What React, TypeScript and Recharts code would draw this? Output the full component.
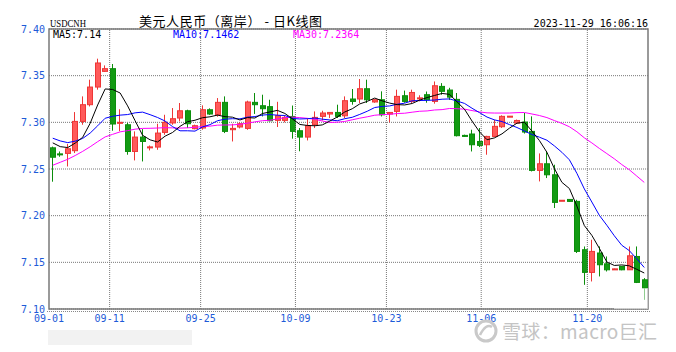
import {
  Bar,
  CartesianGrid,
  ComposedChart,
  Line,
  ReferenceArea,
  ReferenceLine,
  XAxis,
  YAxis
} from "recharts";

// daily USDCNH candles, 09-01 .. 11-29
const opens = [
  7.2727, 7.2662, 7.2667, 7.2696, 7.301, 7.3189, 7.3378, 7.3546, 7.3575, 7.299,
  7.2974, 7.2688, 7.2842, 7.2733, 7.2735, 7.2892, 7.2993, 7.3046, 7.3124, 7.2932,
  7.2939, 7.3135, 7.3082, 7.3214, 7.2921, 7.295, 7.2935, 7.3214, 7.3178, 7.3168,
  7.3021, 7.3021, 7.3063, 7.291, 7.2842, 7.2974, 7.3064, 7.3089, 7.3106, 7.307,
  7.325, 7.325, 7.336, 7.3218, 7.3242, 7.3089, 7.3117, 7.3285, 7.3224, 7.3258,
  7.3296, 7.3224, 7.3385, 7.3346, 7.3246, 7.286, 7.2875, 7.2795, 7.276, 7.2849,
  7.2953, 7.3062, 7.2992, 7.3003, 7.2903, 7.2485, 7.2556, 7.2438, 7.2161, 7.2174,
  7.2153, 7.1635, 7.1392, 7.16, 7.1484, 7.1426, 7.1456, 7.142, 7.1563, 7.1313
];
const highs = [
  7.2740, 7.2688, 7.2768, 7.311, 7.3278, 7.3457, 7.3682, 7.361, 7.3625, 7.314,
  7.2995, 7.2903, 7.2928, 7.2752, 7.2985, 7.3081, 7.3153, 7.3207, 7.3135, 7.2975,
  7.3182, 7.315, 7.326, 7.3278, 7.2985, 7.3, 7.3232, 7.3314, 7.3296, 7.3242,
  7.322, 7.307, 7.318, 7.2939, 7.3046, 7.3117, 7.3124, 7.3108, 7.3189, 7.3278,
  7.3357, 7.3464, 7.3457, 7.325, 7.3332, 7.311, 7.335, 7.334, 7.335, 7.329,
  7.333, 7.3438, 7.342, 7.337, 7.3314, 7.2868, 7.2921, 7.2939, 7.2856, 7.3028,
  7.3075, 7.3068, 7.303, 7.31, 7.3064, 7.2667, 7.2688, 7.2546, 7.2167, 7.2176,
  7.217, 7.167, 7.1742, 7.167, 7.1563, 7.1432, 7.146, 7.167, 7.167, 7.1331
];
const lows = [
  7.2364, 7.2631, 7.2527, 7.2671, 7.2974, 7.317, 7.335, 7.354, 7.291, 7.2905,
  7.2653, 7.2592, 7.2581, 7.2699, 7.2706, 7.2867, 7.2974, 7.301, 7.2939, 7.2925,
  7.2921, 7.308, 7.306, 7.2885, 7.2795, 7.2935, 7.292, 7.309, 7.3063, 7.301,
  7.295, 7.3, 7.2825, 7.269, 7.2806, 7.2939, 7.302, 7.3046, 7.3046, 7.3046,
  7.3189, 7.3207, 7.3207, 7.321, 7.3063, 7.3, 7.3063, 7.321, 7.3207, 7.3225,
  7.321, 7.32, 7.3296, 7.324, 7.2849, 7.2845, 7.2688, 7.2735, 7.2653, 7.284,
  7.294, 7.306, 7.2985, 7.288, 7.2474, 7.2367, 7.2403, 7.2082, 7.2159, 7.215,
  7.16, 7.1259, 7.1295, 7.1349, 7.1402, 7.1424, 7.1415, 7.1418, 7.1278, 7.1098
];
const closes = [
  7.2626, 7.2658, 7.2717, 7.301, 7.3189, 7.3378, 7.3636, 7.3575, 7.2982, 7.3,
  7.2688, 7.2842, 7.2795, 7.2737, 7.2885, 7.3, 7.3039, 7.3124, 7.2985, 7.2964,
  7.3135, 7.3089, 7.3214, 7.2903, 7.2935, 7.2985, 7.3218, 7.3189, 7.3146, 7.3017,
  7.3071, 7.3053, 7.2903, 7.2842, 7.2964, 7.3053, 7.31, 7.3106, 7.3064, 7.3232,
  7.3224, 7.336, 7.3242, 7.3242, 7.3081, 7.3106, 7.3278, 7.3224, 7.332, 7.3262,
  7.3242, 7.3392, 7.3332, 7.327, 7.2857, 7.2849, 7.276, 7.2753, 7.2849, 7.2957,
  7.3064, 7.3066, 7.302, 7.2896, 7.2485, 7.2556, 7.2438, 7.2142, 7.2165, 7.2153,
  7.1617, 7.1392, 7.1617, 7.1474, 7.142, 7.143, 7.142, 7.157, 7.1285, 7.1224
];
// closes before 09-01, estimated from where the averages start
const priorCloses = [
  7.17, 7.175, 7.18, 7.185, 7.19, 7.2, 7.205, 7.215,
  7.22, 7.23, 7.237,
  7.255, 7.27, 7.28, 7.2886,
  7.31, 7.32, 7.29, 7.2792,
  7.29,
  7.295, 7.29, 7.285, 7.29, 7.28,
  7.286, 7.2767, 7.277, 7.2877
];

const priceTicks = [7.1, 7.15, 7.2, 7.25, 7.3, 7.35, 7.4];
const dateLabels = ["09-01", "09-11", "09-25", "10-09", "10-23", "11-06", "11-20"];
const dateBars = [0, 8, 20, 32.5, 44.5, 57, 71];
const legendValues = ["7.14", "7.1462", "7.2364"];
const stamp = "2023-11-29 16:06:16";

const BLUE_TEXT = "#1d5ad8";
const MONO = "'DejaVu Sans Mono', monospace";

function movingAverage(n: number, i: number) {
  const all = [...priorCloses, ...closes];
  const end = priorCloses.length + i;
  let sum = 0;
  for (let k = end - n + 1; k <= end; k += 1) sum += all[k];
  return sum / n;
}

const rows = closes.map((close, i) => ({
  i,
  open: opens[i],
  high: highs[i],
  low: lows[i],
  close,
  range: [lows[i], highs[i]],
  ma5: movingAverage(5, i),
  ma10: movingAverage(10, i),
  ma30: movingAverage(30, i)
}));

function Candle(props: any) {
  const { x, y, width, height, payload } = props;
  if (!payload) return null;
  const { open, close, high, low } = payload;
  const up = close >= open;
  const top = Math.min(y, y + height);
  const h = Math.abs(height);
  const ppu = h / (high - low);
  const cx = Math.round(x + width / 2) - 0.5;
  const bodyTop = top + (high - Math.max(open, close)) * ppu;
  const bodyH = Math.max(1, Math.abs(open - close) * ppu);
  const line = up ? "#ee3636" : "#0b8e0b";
  return (
    <g>
      <line x1={cx} x2={cx} y1={top} y2={top + h} stroke={line} strokeWidth={1} />
      <rect
        x={Math.round(x) + 0.5}
        y={bodyTop}
        width={Math.round(width) - 1}
        height={bodyH}
        fill={up ? "#ff5a5a" : "#139b13"}
        stroke={line}
        strokeWidth={1}
      />
    </g>
  );
}

export default function App() {
  return (
    <div style={{ position: "absolute", left: 0, top: 0, width: 676, height: 352, background: "#fff" }}>
      <ComposedChart
        width={676}
        height={352}
        data={rows}
        margin={{ top: 29, right: 28, bottom: 23, left: 0 }}
      >
        <CartesianGrid vertical={false} stroke="#777" strokeDasharray="1 1" />
        <XAxis dataKey="i" hide height={0} />
        <XAxis
          xAxisId="t"
          type="number"
          domain={[0, 80]}
          ticks={dateBars}
          tickFormatter={(v: number) => dateLabels[dateBars.indexOf(v)] ?? ""}
          axisLine={false}
          tickLine={false}
          tickSize={4}
          tickMargin={2}
          height={20}
          interval={0}
          tick={{ fill: BLUE_TEXT, fontSize: 10, fontFamily: MONO }}
        />
        <YAxis
          type="number"
          domain={[7.1, 7.4]}
          ticks={priceTicks}
          tickFormatter={(v: number) => v.toFixed(2)}
          axisLine={false}
          tickLine={false}
          tickSize={2}
          tickMargin={2}
          width={49}
          interval={0}
          tick={{ fill: BLUE_TEXT, fontSize: 10, fontFamily: MONO }}
        />
        {dateBars.slice(1).map((v) => (
          <ReferenceLine key={v} xAxisId="t" x={v} stroke="#777" strokeDasharray="1 1" />
        ))}
        <Line dataKey="ma30" stroke="#ff00ff" strokeWidth={1} dot={false} isAnimationActive={false} />
        <Line dataKey="ma10" stroke="#0000ff" strokeWidth={1} dot={false} isAnimationActive={false} />
        <Line dataKey="ma5" stroke="#000" strokeWidth={1} dot={false} isAnimationActive={false} />
        <Bar dataKey="range" barSize={6} shape={(p: any) => <Candle {...p} />} isAnimationActive={false} />
        <ReferenceArea y1={7.1} y2={7.4} fill="none" stroke="#7a7a7a" strokeWidth={1.5} />
      </ComposedChart>
      <svg
        width={676}
        height={352}
        style={{ position: "absolute", left: 0, top: 0, pointerEvents: "none" }}
      >
        <text x={50} y={26.5} fontSize={10} fontFamily="'Liberation Serif', serif" textLength={36} lengthAdjust="spacingAndGlyphs">
          USDCNH
        </text>
        <text x={139} y={25.5} fontSize={13} fontFamily="'Noto Sans CJK SC', sans-serif" textLength={183} lengthAdjust="spacing">
          美元人民币（离岸） - 日K线图
        </text>
        <text x={648} y={26.5} fontSize={10} fontFamily={MONO} textAnchor="end">
          {stamp}
        </text>
        <text x={53} y={37.5} fontSize={10} fontFamily={MONO} fill="#000">
          MA5:{legendValues[0]}
        </text>
        <text x={173} y={37.5} fontSize={10} fontFamily={MONO} fill="#0000ff">
          MA10:{legendValues[1]}
        </text>
        <text x={293} y={37.5} fontSize={10} fontFamily={MONO} fill="#ff00ff">
          MA30:{legendValues[2]}
        </text>
        <line x1={47} x2={651} y1={311.5} y2={311.5} stroke="#888" strokeDasharray="1 1" />
        <rect x={48} y={330} width={144} height={15} fill="#f2f2f2" />
        <rect x={614} y={288} width={34} height={21} fill="#fff" opacity={0.55} />
        <circle cx={486} cy={331} r={10} fill="none" stroke="#c9c9c9" strokeWidth={3} />
        <path d="M480 335 Q486 323 492 327" fill="none" stroke="#c9c9c9" strokeWidth={2.5} />
        <text x={502} y={339} fontSize={19} fontFamily="'Noto Sans CJK SC', sans-serif" fill="#c4c4c4" textLength={155} lengthAdjust="spacing">
          雪球：macro巨汇
        </text>
      </svg>
    </div>
  );
}
